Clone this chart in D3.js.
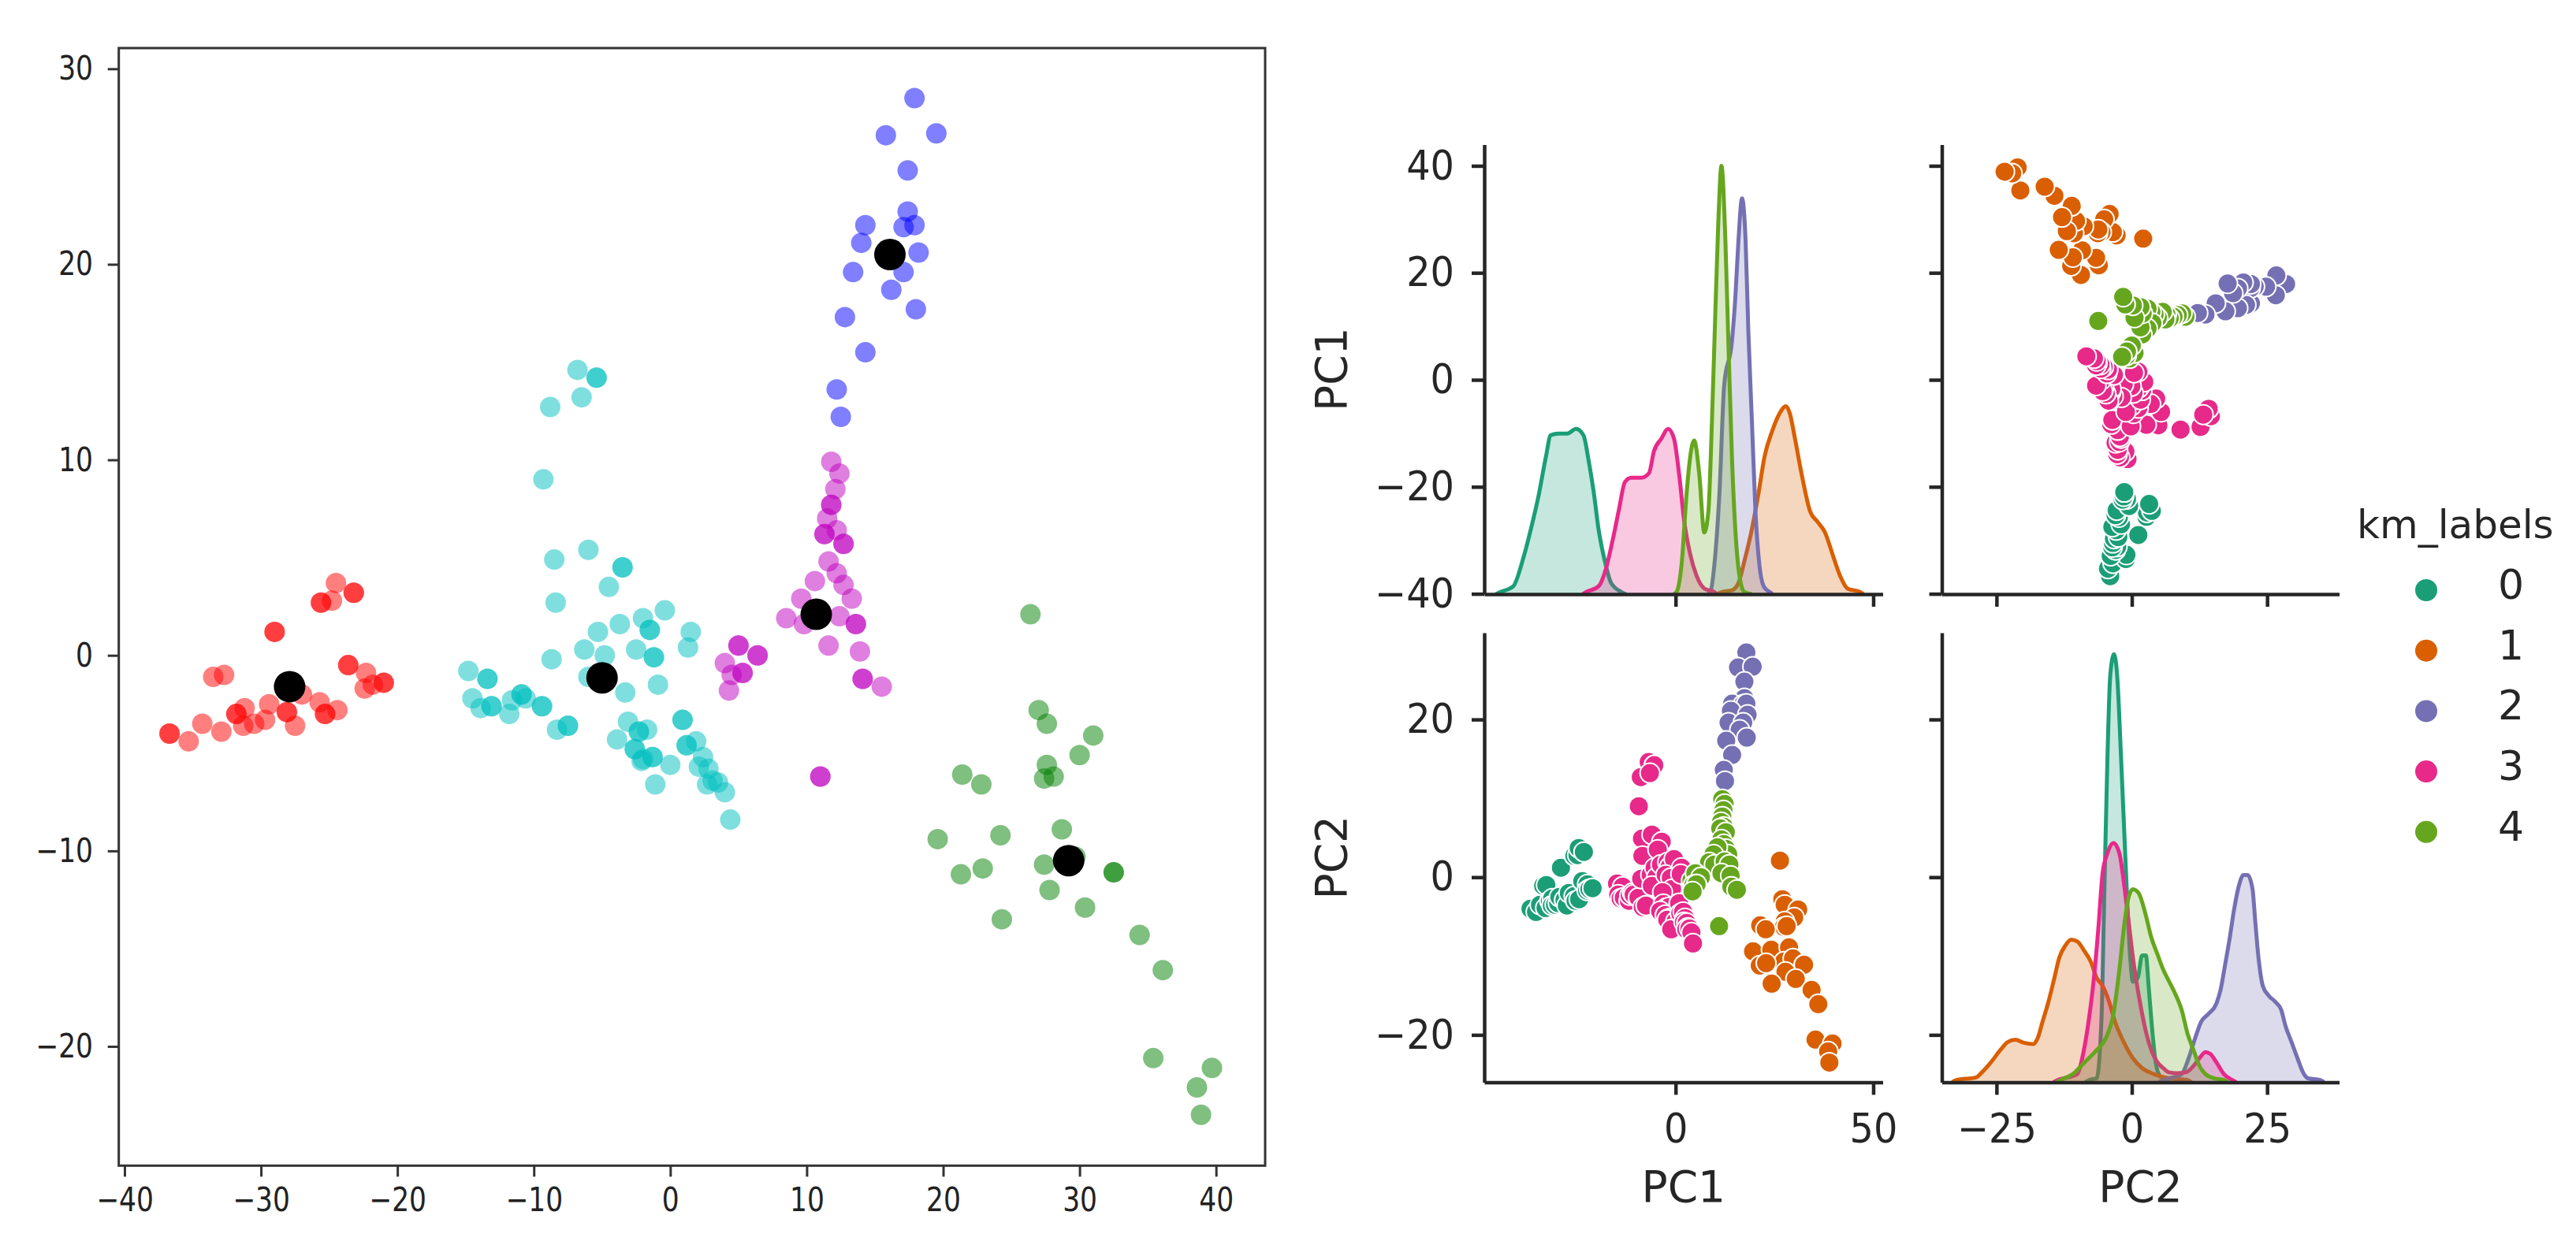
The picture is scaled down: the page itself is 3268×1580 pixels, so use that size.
<!DOCTYPE html>
<html><head><meta charset="utf-8">
<script src="https://cdn.jsdelivr.net/npm/d3@7"></script>
<style>body{margin:0;background:#fff} svg{display:block} text{font-family:"DejaVu Sans",sans-serif}</style>
</head><body><svg id="chart" width="3268" height="1580"></svg>
<script>
// ---------- DATA (left scatter: PC1 vs PC2 by colour group) ----------
const clusterRed = [[-36.7,-4.0],[-36.7,-4.0],[-35.3,-4.4],[-34.3,-3.5],[-33.5,-1.1],[-32.7,-1.0],[-32.9,-3.9],[-31.8,-3.0],[-31.8,-3.0],[-31.2,-2.7],[-31.3,-3.6],[-30.5,-3.5],[-29.7,-3.3],[-29.4,-2.5],[-29.0,1.2],[-29.0,1.2],[-28.1,-2.9],[-28.1,-2.9],[-27.5,-3.6],[-27.0,-2.0],[-25.7,-2.4],[-25.3,-3.0],[-25.3,-3.0],[-24.4,-2.8],[-25.6,2.7],[-25.6,2.7],[-24.8,2.8],[-24.5,3.7],[-23.2,3.2],[-23.2,3.2],[-23.6,-0.5],[-23.6,-0.5],[-22.3,-0.9],[-22.4,-1.7],[-21.8,-1.5],[-21.0,-1.4],[-21.0,-1.4]];
const clusterCyan = [[-14.8,-0.8],[-13.4,-1.2],[-13.4,-1.2],[-14.5,-2.2],[-13.9,-2.7],[-13.1,-2.6],[-13.1,-2.6],[-11.8,-3.0],[-11.6,-2.3],[-10.9,-2.0],[-10.9,-2.0],[-10.6,-2.2],[-9.4,-2.6],[-9.4,-2.6],[-8.3,-3.8],[-7.5,-3.6],[-7.5,-3.6],[-9.3,9.0],[-8.8,12.7],[-6.8,14.6],[-5.4,14.2],[-5.4,14.2],[-6.5,13.2],[-8.5,4.9],[-8.4,2.7],[-8.7,-0.2],[-6.0,5.4],[-3.5,4.5],[-3.5,4.5],[-4.5,3.5],[-6.3,0.3],[-5.3,1.2],[-4.8,0.0],[-6.0,-1.1],[-3.7,1.6],[-2.0,1.9],[-1.5,1.3],[-1.5,1.3],[-0.4,2.3],[-2.5,0.3],[-1.2,-0.1],[-1.2,-0.1],[-0.9,-1.5],[-3.3,-1.9],[1.5,1.2],[1.3,0.4],[-3.1,-3.4],[-2.3,-3.9],[-2.3,-3.9],[-1.7,-3.8],[-3.9,-4.3],[-2.6,-4.8],[-2.6,-4.8],[-2.0,-5.3],[-1.3,-5.2],[-1.3,-5.2],[-2.1,-5.4],[0.0,-5.6],[-1.1,-6.6],[0.9,-3.3],[0.9,-3.3],[1.2,-4.6],[1.2,-4.6],[1.9,-4.4],[2.4,-5.2],[2.1,-5.7],[2.8,-5.8],[3.1,-6.4],[2.7,-6.6],[3.5,-6.5],[4.0,-7.0],[4.4,-8.4]];
const clusterMagenta = [[11.8,9.9],[12.4,9.3],[12.1,8.5],[11.8,7.7],[11.8,7.7],[11.5,7.0],[12.2,6.4],[11.3,6.2],[11.3,6.2],[12.7,5.7],[12.7,5.7],[11.6,4.8],[12.2,4.2],[12.7,3.6],[13.3,2.9],[10.6,3.8],[9.6,2.9],[8.5,1.9],[9.8,1.6],[12.4,2.0],[13.6,1.6],[13.6,1.6],[11.6,0.5],[13.9,0.2],[14.1,-1.2],[14.1,-1.2],[15.5,-1.6],[11.0,-6.2],[11.0,-6.2],[4.0,-0.4],[5.0,0.5],[5.0,0.5],[6.4,0.0],[6.4,0.0],[4.5,-1.0],[5.3,-0.9],[5.3,-0.9],[4.3,-1.8]];
const clusterBlue = [[17.9,28.5],[15.8,26.6],[19.5,26.7],[17.4,24.8],[17.4,22.7],[14.3,22.0],[17.1,21.9],[17.9,22.0],[14.0,21.1],[18.2,20.6],[13.4,19.6],[17.1,19.6],[16.2,18.7],[18.0,17.7],[12.8,17.3],[14.3,15.5],[12.2,13.6],[12.5,12.2]];
const clusterGreen = [[26.4,2.1],[27.0,-2.8],[27.6,-3.5],[31.0,-4.1],[30.0,-5.1],[27.6,-5.6],[27.4,-6.3],[28.1,-6.2],[21.4,-6.1],[22.8,-6.6],[19.6,-9.4],[24.2,-9.2],[28.7,-8.9],[27.4,-10.7],[29.7,-10.3],[32.5,-11.1],[32.5,-11.1],[21.3,-11.2],[22.9,-10.9],[27.8,-12.0],[30.4,-12.9],[24.3,-13.5],[34.4,-14.3],[36.1,-16.1],[35.4,-20.6],[39.7,-21.1],[38.6,-22.1],[38.9,-23.5]];
const centroids = [[-27.9,-1.6],[-5.0,-1.15],[10.7,2.1],[16.1,20.5],[29.2,-10.5]];
const leftXTicks = [-40,-30,-20,-10,0,10,20,30,40];
const leftYTicks = [-20,-10,0,10,20,30];

// ---------- DATA (pair plot) ----------
const kmLabels = ["0","1","2","3","4"];
const kmColors = ["#1b9e77","#d95f02","#7570b3","#e7298a","#66a61e"];
// density curves: [value, relative density]
const kdePC1_0 = [[-45.5,0],[-44.3,.005],[-41.1,.018],[-38.5,.085],[-36.6,.152],[-34.7,.228],[-32.8,.321],[-31.6,.371],[-29.6,.375],[-27.4,.375],[-25.2,.386],[-23.3,.371],[-22.0,.312],[-20.7,.237],[-19.5,.152],[-17.9,.077],[-16.3,.026],[-13.7,.005],[-12.5,0]];
const kdePC1_1 = [[10.5,0],[11.7,.005],[14.25,.009],[15.9,.026],[17.4,.077],[19.3,.152],[21.0,.237],[22.5,.321],[24.4,.38],[26.3,.422],[27.9,.439],[28.9,.422],[30.2,.363],[32.1,.270],[34.0,.194],[35.9,.169],[37.8,.144],[39.7,.093],[41.6,.043],[43.5,.013],[46.7,.005],[47.5,0]];
const kdePC1_2 = [[8.0,0],[8.8,.005],[9.8,.068],[11.1,.237],[12.3,.489],[14.25,.59],[15.1,.691],[15.9,.826],[16.8,.924],[17.7,.826],[18.4,.615],[19.3,.405],[20.2,.194],[21.2,.068],[22.3,.018],[23.8,.005],[24.5,0]];
const kdePC1_3 = [[-23.5,0],[-22.6,.005],[-19.5,.018],[-17.6,.06],[-15.9,.127],[-14.4,.194],[-12.8,.262],[-11.2,.272],[-8.65,.272],[-6.7,.283],[-5.5,.333],[-3.6,.363],[-1.9,.386],[-0.4,.363],[0.9,.279],[2.2,.169],[3.7,.093],[5.3,.043],[7.3,.013],[9.8,.005],[10.5,0]];
const kdePC1_4 = [[-0.5,0],[0.25,.005],[1.5,.068],[2.8,.237],[3.7,.321],[4.7,.359],[6.0,.279],[7.25,.144],[8.3,.194],[9.2,.405],[10.05,.657],[10.8,.868],[11.6,1.0],[12.6,.826],[13.4,.573],[14.25,.321],[15.1,.152],[16.15,.043],[17.4,.005],[19.3,0]];
const kdePC2_0 = [[-8.6,0],[-7.9,.005],[-6.5,.009],[-5.6,.15],[-5.1,.432],[-4.5,.761],[-4.0,.948],[-3.3,1.0],[-2.7,.948],[-2.0,.761],[-1.2,.526],[-0.3,.291],[0.2,.235],[1.1,.244],[1.9,.296],[2.6,.296],[3.1,.225],[3.7,.131],[4.4,.047],[5.2,.014],[6.4,.005],[7.0,0]];
const kdePC2_1 = [[-33.2,0],[-32.4,.005],[-28.8,.011],[-27.7,.023],[-26.0,.047],[-24.3,.075],[-22.9,.094],[-21.5,.099],[-19.9,.092],[-18.2,.089],[-17.4,.103],[-16.5,.141],[-15.4,.188],[-14.3,.244],[-13.4,.291],[-12.3,.319],[-11.2,.333],[-10.1,.329],[-8.7,.305],[-7.6,.282],[-6.5,.244],[-5.4,.225],[-4.2,.188],[-3.1,.141],[-1.5,.094],[0.2,.056],[1.9,.033],[4.1,.019],[6.9,.009],[10.3,.005],[11.0,0]];
const kdePC2_2 = [[5.0,0],[5.8,.005],[9.2,.019],[10.5,.056],[11.7,.103],[12.8,.141],[14.2,.160],[15.6,.183],[16.4,.216],[17.2,.272],[18.1,.338],[18.9,.404],[19.8,.460],[20.6,.484],[21.4,.484],[22.3,.451],[22.8,.376],[23.4,.291],[24.2,.225],[25.3,.202],[26.5,.188],[27.6,.169],[28.4,.131],[29.5,.094],[30.6,.056],[31.8,.019],[32.6,.009],[34.8,.005],[35.5,0]];
const kdePC2_3 = [[-14.5,0],[-13.7,.005],[-10.1,.019],[-9.0,.066],[-7.9,.150],[-7.0,.244],[-6.2,.357],[-5.4,.488],[-4.5,.535],[-3.4,.559],[-2.3,.535],[-1.5,.469],[-0.6,.376],[0.2,.291],[1.1,.216],[1.9,.160],[2.7,.113],[3.6,.075],[4.7,.047],[5.8,.033],[6.9,.023],[8.3,.021],[10.0,.023],[11.4,.038],[12.5,.056],[13.6,.070],[14.5,.066],[15.6,.047],[17.0,.019],[18.6,.005],[19.3,0]];
const kdePC2_4 = [[-14.0,0],[-13.2,.005],[-10.9,.019],[-8.7,.047],[-6.5,.075],[-4.8,.103],[-3.4,.160],[-2.3,.263],[-1.5,.357],[-0.6,.432],[0.2,.451],[1.3,.441],[2.5,.394],[3.6,.338],[4.7,.300],[5.8,.263],[6.9,.235],[8.0,.207],[9.2,.169],[10.3,.113],[11.4,.075],[12.5,.038],[13.6,.019],[15.3,.009],[17.0,.005],[17.8,0]];
const pc1Ticks = [-40,-20,0,20,40];
const pc1XTicks = [0,50];
const pc2XTicks = [-25,0,25];
const pc2YTicks = [-20,0,20];

// ---------- DRAW ----------
const svg = d3.select('#chart');
const fmt = d3.format('d');

// ===== Left scatter =====
const xL = d3.scaleLinear().domain([-40.42,43.6]).range([150.7,1605]);
const yL = d3.scaleLinear().domain([-26.1,31.06]).range([1479.3,61]);
const groups = [
  {pts: clusterRed, color: '#ff0000', km: 0},
  {pts: clusterCyan, color: '#00bfbf', km: 3},
  {pts: clusterMagenta, color: '#bf00bf', km: 4},
  {pts: clusterBlue, color: '#0000ff', km: 2},
  {pts: clusterGreen, color: '#008000', km: 1}
];
const gL = svg.append('g');
groups.forEach(g => {
  gL.append('g').selectAll('circle').data(g.pts).join('circle')
    .attr('cx', d => xL(d[0])).attr('cy', d => yL(d[1])).attr('r', 13)
    .attr('fill', g.color).attr('fill-opacity', 0.5);
});
gL.append('g').selectAll('circle').data(centroids).join('circle')
  .attr('cx', d => xL(d[0])).attr('cy', d => yL(d[1])).attr('r', 20).attr('fill', '#000');

const gxL = gL.append('g').attr('transform', 'translate(0,1479.3)')
  .call(d3.axisBottom(xL).tickValues(leftXTicks).tickSize(14).tickSizeOuter(0).tickFormat(fmt));
gxL.select('.domain').remove();
gxL.attr('font-family', 'DejaVu Sans').attr('font-size', 42);
gxL.selectAll('.tick line').attr('stroke', '#333').attr('stroke-width', 3);
gxL.selectAll('.tick text').attr('y', 27.6).attr('fill', '#222').attr('transform', 'scale(0.82,1)');

const gyL = gL.append('g').attr('transform', 'translate(150.7,0)')
  .call(d3.axisLeft(yL).tickValues(leftYTicks).tickSize(14).tickSizeOuter(0).tickFormat(fmt));
gyL.select('.domain').remove();
gyL.attr('font-family', 'DejaVu Sans').attr('font-size', 42);
gyL.selectAll('.tick line').attr('stroke', '#333').attr('stroke-width', 3);
gyL.selectAll('.tick text').attr('x', -32.7 / 0.82).attr('fill', '#222').attr('transform', 'scale(0.82,1)');

gL.append('rect').attr('x', xL.range()[0]).attr('y', yL.range()[1])
  .attr('width', xL.range()[1] - xL.range()[0]).attr('height', yL.range()[0] - yL.range()[1])
  .attr('fill', 'none').attr('stroke', '#333').attr('stroke-width', 3);

// ===== Pair plot =====
const colX = [
  d3.scaleLinear().domain([-48.4,52.4]).range([1883,2388.5]),
  d3.scaleLinear().domain([-35.1,38.3]).range([2463.5,2967.5])
];
const rowY = [
  d3.scaleLinear().domain([-40.06,43.98]).range([754,183.4]),
  d3.scaleLinear().domain([-26.0,31.0]).range([1373.4,803])
];
const colTicks = [pc1XTicks, pc2XTicks];
const rowTicks = [pc1Ticks, pc2YTicks];
const kdes = [[kdePC1_0,kdePC1_1,kdePC1_2,kdePC1_3,kdePC1_4],[kdePC2_0,kdePC2_1,kdePC2_2,kdePC2_3,kdePC2_4]];
const AX = '#262626';

// km-labelled points as [PC1, PC2, label]
const kmPoints = [];
groups.forEach(g => g.pts.forEach(p => kmPoints.push([p[0], p[1], g.km])));
kmPoints.sort((a, b) => a[2] - b[2]);

const gP = svg.append('g');
for (let r = 0; r < 2; r++) {
  for (let c = 0; c < 2; c++) {
    const xs = colX[c], ys = rowY[r];
    const g = gP.append('g');
    if (r === c) {
      const yd = d3.scaleLinear().domain([0,1.05]).range(ys.range());
      kdes[c].forEach((curve, i) => {
        const area = d3.area().curve(d3.curveMonotoneX)
          .x(d => xs(d[0])).y0(yd(0)).y1(d => yd(d[1]));
        const line = d3.line().curve(d3.curveMonotoneX)
          .x(d => xs(d[0])).y(d => yd(d[1]));
        g.append('path').datum(curve).attr('d', area).attr('fill', kmColors[i]).attr('fill-opacity', 0.25);
        g.append('path').datum(curve).attr('d', line).attr('fill', 'none')
          .attr('stroke', kmColors[i]).attr('stroke-width', 5).attr('stroke-linejoin', 'round');
      });
    } else {
      // c = column variable (0:PC1,1:PC2), r = row variable
      g.selectAll('circle').data(kmPoints).join('circle')
        .attr('cx', d => xs(d[c])).attr('cy', d => ys(d[r])).attr('r', 12.5)
        .attr('fill', d => kmColors[d[2]]).attr('stroke', '#fff').attr('stroke-width', 2);
    }
    // axes
    const gx = g.append('g').attr('transform', `translate(0,${ys.range()[0]})`)
      .call(d3.axisBottom(xs).tickValues(colTicks[c]).tickSize(16).tickSizeOuter(0).tickFormat(fmt));
    const gy = g.append('g').attr('transform', `translate(${xs.range()[0]},0)`)
      .call(d3.axisLeft(ys).tickValues(rowTicks[r]).tickSize(16).tickSizeOuter(0).tickFormat(fmt));
    [gx, gy].forEach(a => {
      a.attr('font-family', 'DejaVu Sans').attr('font-size', 52);
      a.select('.domain').attr('stroke', AX).attr('stroke-width', 4.5);
      a.selectAll('.tick line').attr('stroke', AX).attr('stroke-width', 4.5);
      a.selectAll('.tick text').attr('fill', AX);
    });
    gx.selectAll('.tick text').attr('y', 39.6).attr('transform', 'scale(0.92,1)');
    gy.selectAll('.tick text').attr('x', -38 / 0.92).attr('transform', 'scale(0.92,1)');
    if (r === 0) gx.selectAll('.tick text').remove();
    if (c === 1) gy.selectAll('.tick text').remove();
  }
}
// axis titles
const axNames = ['PC1', 'PC2'];
axNames.forEach((n, i) => {
  const xr = colX[i].range();
  gP.append('text').attr('x', (xr[0] + xr[1]) / 2).attr('y', 1525).attr('text-anchor', 'middle')
    .attr('font-size', 55).attr('fill', AX).text(n);
  const yr = rowY[i].range();
  gP.append('text').attr('transform', `translate(1708,${(yr[0] + yr[1]) / 2}) rotate(-90)`)
    .attr('text-anchor', 'middle').attr('font-size', 55).attr('fill', AX).text(n);
});

// legend
const gLeg = svg.append('g');
gLeg.append('text').attr('x', 2990).attr('y', 683).attr('font-size', 50).attr('fill', AX).text('km_labels');
const items = gLeg.selectAll('g.item').data(kmLabels).join('g').attr('class', 'item')
  .attr('transform', (d, i) => `translate(0,${749 + i * 76.7})`);
items.append('circle').attr('cx', 3078).attr('cy', 0).attr('r', 15)
  .attr('fill', (d, i) => kmColors[i]).attr('stroke', '#fff').attr('stroke-width', 2);
items.append('text').attr('x', 3169).attr('y', 11).attr('font-size', 52).attr('fill', AX).text(d => d);
</script></body></html>
